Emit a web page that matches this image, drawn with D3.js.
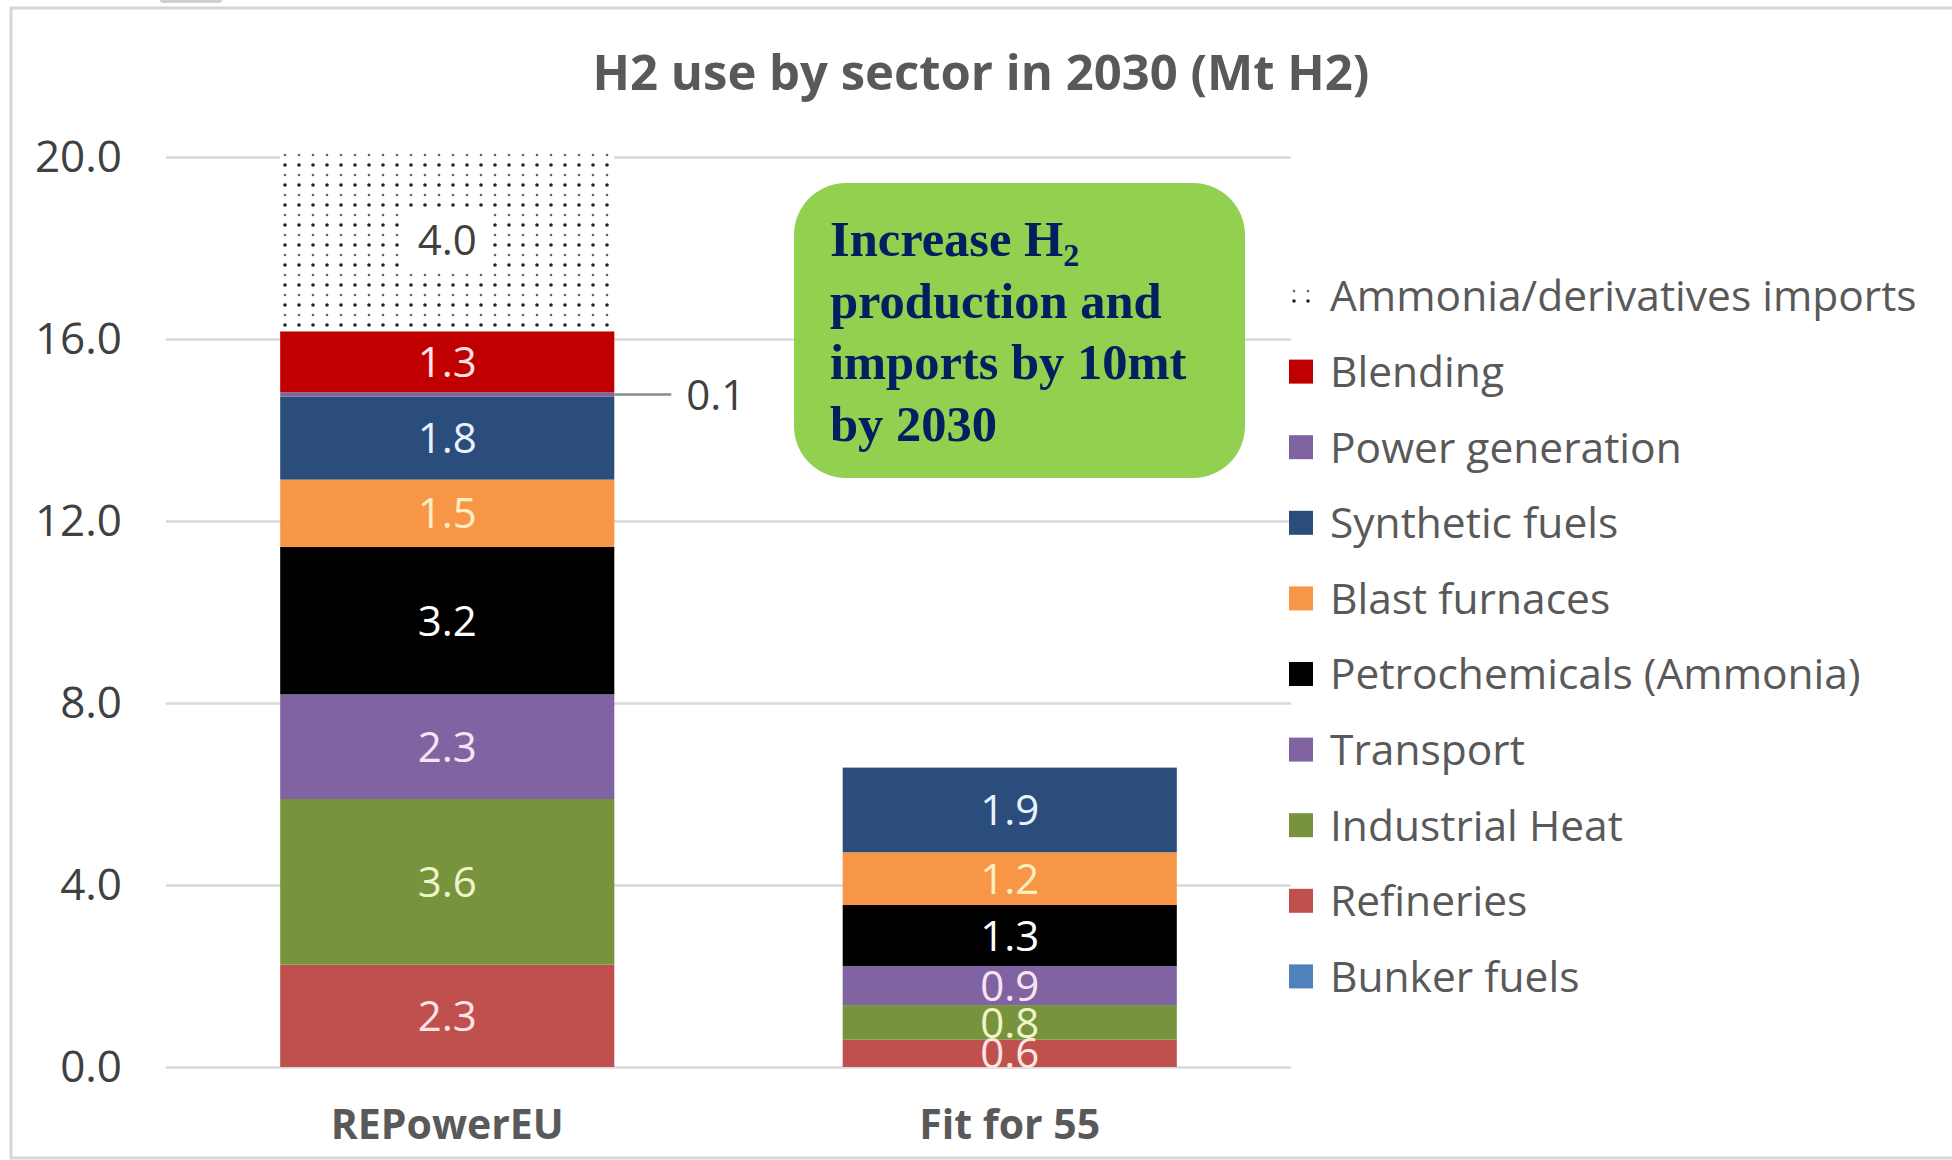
<!DOCTYPE html>
<html><head><meta charset="utf-8">
<script src="https://cdn.jsdelivr.net/npm/d3@7"></script>
<style>body{margin:0;background:#fff} svg{display:block}</style>
</head><body>
<svg id="chart" width="1952" height="1160"></svg>
<script>
// ---------- data ----------
const categories = ["REPowerEU", "Fit for 55"];
// stacking order, bottom to top
const sectors = ["Refineries", "Industrial Heat", "Transport", "Petrochemicals (Ammonia)", "Blast furnaces",
  "Synthetic fuels", "Power generation", "Blending", "Ammonia/derivatives imports", "Bunker fuels"];
const repowerValues  = [2.25, 3.64, 2.3, 3.24, 1.48, 1.82, 0.1, 1.34, 4.02, 0];
const fitFor55Values = [0.6, 0.76, 0.86, 1.34, 1.16, 1.86, 0, 0, 0, 0];
const legendOrder = ["Ammonia/derivatives imports", "Blending", "Power generation", "Synthetic fuels", "Blast furnaces",
  "Petrochemicals (Ammonia)", "Transport", "Industrial Heat", "Refineries", "Bunker fuels"];
const yTicks = [0, 4, 8, 12, 16, 20];
const titleText = "H2 use by sector in 2030 (Mt H2)";
const calloutLines = [["Increase H", "2"], ["production and"], ["imports by 10mt"], ["by 2030"]];
const smallValueNote = "0.1";

// ---------- styles ----------
const fills = {
  "Refineries": "#c0504d", "Industrial Heat": "#77933c", "Transport": "#8064a2",
  "Petrochemicals (Ammonia)": "#000000", "Blast furnaces": "#f79646", "Synthetic fuels": "#2b4d7c",
  "Power generation": "#8064a2", "Blending": "#c00000", "Ammonia/derivatives imports": "url(#dots)",
  "Bunker fuels": "#4f81bd"
};
const labelColors = {
  "Refineries": "#fde3e3", "Industrial Heat": "#eef6c8", "Transport": "#f6e4f6",
  "Petrochemicals (Ammonia)": "#ffffff", "Blast furnaces": "#fdeec0", "Synthetic fuels": "#e8f2ff",
  "Blending": "#fde3e3", "Ammonia/derivatives imports": "#404040"
};
const FONT = "'Open Sans', 'Noto Sans', sans-serif";

const svg = d3.select("#chart");
const defs = svg.append("defs");
const pat = defs.append("pattern").attr("id", "dots").attr("patternUnits", "userSpaceOnUse")
  .attr("width", 14).attr("height", 20);
pat.append("rect").attr("width", 14).attr("height", 20).attr("fill", "#fff");
pat.append("circle").attr("cx", 5).attr("cy", 5).attr("r", 1.8).attr("fill", "#222");
pat.append("circle").attr("cx", 5).attr("cy", 15).attr("r", 1.3).attr("fill", "#666");

// frame
svg.append("rect").attr("x", 160).attr("y", -6).attr("width", 62).attr("height", 9).attr("rx", 3).attr("fill", "#cfcfcf");
svg.append("rect").attr("x", 11).attr("y", 8).attr("width", 1960).attr("height", 1150)
  .attr("fill", "#fff").attr("stroke", "#d6d6d6").attr("stroke-width", 3);

// scales
const y = d3.scaleLinear().domain([0, 20]).range([1067, 157]);
const x = d3.scaleBand().domain(categories).range([166, 1291]).paddingInner(0.406).paddingOuter(0.203);

// grid + y axis
const yAxis = svg.append("g").attr("transform", "translate(166,0)")
  .call(d3.axisLeft(y).tickValues(yTicks).tickSize(-(1291 - 166)).tickPadding(44).tickFormat(d3.format(".1f")));
yAxis.select(".domain").remove();
yAxis.selectAll(".tick line").attr("stroke", "#d9d9d9").attr("stroke-width", 2.5);
yAxis.selectAll(".tick text").attr("fill", "#404040").style("font-family", FONT).style("font-size", "44px");

// stacked data
const table = categories.map((c, i) => {
  const row = { category: c };
  const vals = i === 0 ? repowerValues : fitFor55Values;
  sectors.forEach((s, j) => row[s] = vals[j]);
  return row;
});
const series = d3.stack().keys(sectors)(table);

const bars = svg.append("g");
series.forEach(s => {
  bars.selectAll(null).data(s.filter(d => d[1] - d[0] > 0)).join("rect")
    .attr("x", d => x(d.data.category)).attr("width", x.bandwidth())
    .attr("y", d => y(d[1])).attr("height", d => y(d[0]) - y(d[1]))
    .attr("fill", fills[s.key]);
});

// labels
defs.append("clipPath").attr("id", "plotclip").append("rect")
  .attr("x", 0).attr("y", 0).attr("width", 1952).attr("height", y(0) + 1);
const labels = svg.append("g").attr("clip-path", "url(#plotclip)");
const fmt = d3.format(".1f");
series.forEach(s => {
  s.filter(d => d[1] - d[0] >= 0.5).forEach(d => {
    const cx = x(d.data.category) + x.bandwidth() / 2;
    const cy = y((d[0] + d[1]) / 2);
    if (s.key === "Ammonia/derivatives imports") {
      labels.append("rect").attr("x", cx - 42).attr("y", cy - 31).attr("width", 84).attr("height", 62).attr("fill", "#fff");
    }
    labels.append("text").attr("x", cx).attr("y", cy).attr("dy", "0.36em")
      .attr("text-anchor", "middle").attr("fill", labelColors[s.key])
      .style("font-family", FONT).style("font-size", "42px")
      .text(fmt(d[1] - d[0]));
  });
});

// small value leader
const pg = series.find(s => s.key === "Power generation")[0];
const pgY = y((pg[0] + pg[1]) / 2);
const barRight = x(categories[0]) + x.bandwidth();
svg.append("line").attr("x1", barRight).attr("x2", barRight + 57).attr("y1", pgY).attr("y2", pgY)
  .attr("stroke", "#8c8c8c").attr("stroke-width", 2.5);
svg.append("text").attr("x", barRight + 72).attr("y", pgY).attr("dy", "0.36em").attr("fill", "#404040")
  .style("font-family", FONT).style("font-size", "42px").text(smallValueNote);

// category labels
svg.append("g").selectAll("text").data(categories).join("text")
  .attr("x", d => x(d) + x.bandwidth() / 2).attr("y", 1124).attr("dy", "0.36em")
  .attr("text-anchor", "middle").attr("fill", "#595959")
  .style("font-family", FONT).style("font-size", "41px").style("font-weight", "bold")
  .text(d => d);

// title
svg.append("text").attr("x", 981).attr("y", 72).attr("dy", "0.36em").attr("text-anchor", "middle")
  .attr("fill", "#595959").style("font-family", FONT).style("font-size", "49px").style("font-weight", "bold")
  .text(titleText);

// legend
const lg = svg.append("g").selectAll("g").data(legendOrder).join("g")
  .attr("transform", (d, i) => `translate(1289,${296 + i * 75.6})`);
lg.append("rect").attr("x", 0).attr("y", -12).attr("width", 24).attr("height", 24).attr("fill", d => fills[d]);
lg.append("text").attr("x", 41).attr("y", 0).attr("dy", "0.36em").attr("fill", "#595959")
  .style("font-family", FONT).style("font-size", "42.5px").text(d => d);

// callout
svg.append("rect").attr("x", 794).attr("y", 183).attr("width", 451).attr("height", 295).attr("rx", 52)
  .attr("fill", "#92d050");
const ct = svg.append("text").attr("fill", "#002060")
  .style("font-family", "'Liberation Serif', 'Times New Roman', serif").style("font-size", "50.5px").style("font-weight", "bold");
calloutLines.forEach((ln, i) => {
  const t = ct.append("tspan").attr("x", 830).attr("y", 256 + i * 61.5).text(ln[0]);
  if (ln[1]) ct.append("tspan").attr("dy", 10).style("font-size", "32px").text(ln[1]);
});
</script>
</body></html>
